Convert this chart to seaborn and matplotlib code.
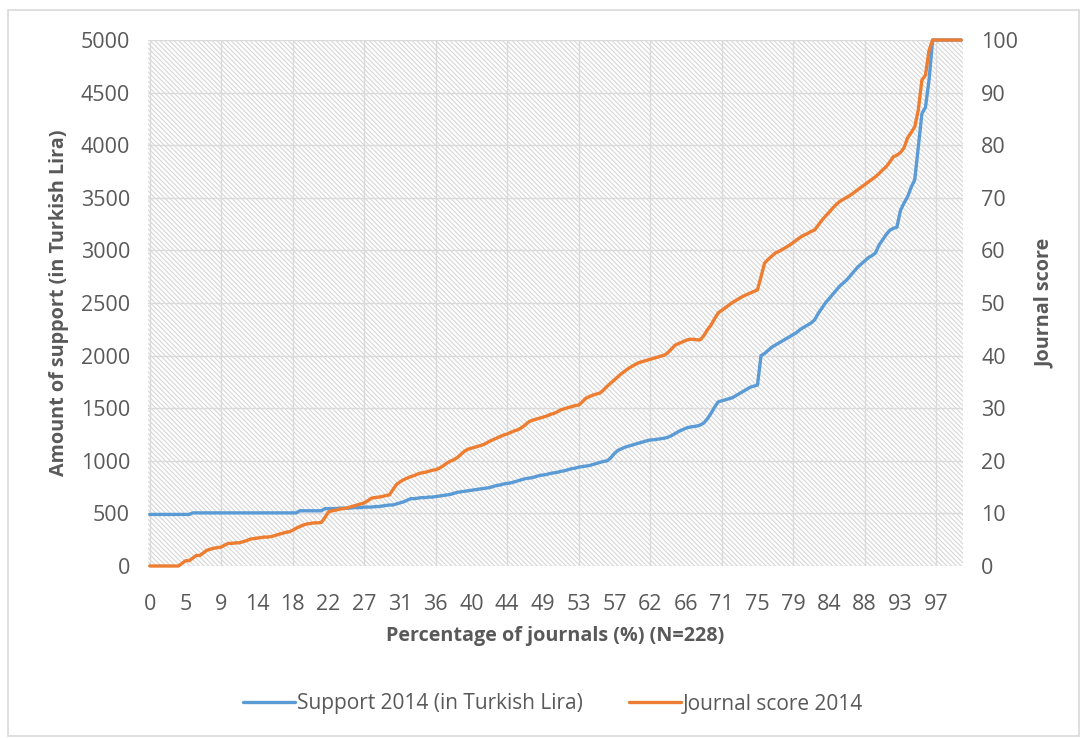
import numpy as np
import pandas as pd
import matplotlib
matplotlib.use("Agg")
import matplotlib.pyplot as plt
from matplotlib.patches import Rectangle
from matplotlib.lines import Line2D
import seaborn as sns

# Sorted support amounts per journal (Turkish Lira), 228 journals
support_2014 = [
    490, 490, 490, 490, 490, 490, 490, 490, 490, 490,
    490, 490, 505, 505, 505, 505, 505, 505, 505, 505,
    505, 505, 505, 505, 505, 505, 505, 505, 505, 505,
    505, 505, 505, 505, 505, 505, 505, 505, 505, 505,
    505, 505, 525, 525, 525, 525, 525, 525, 525, 545,
    545, 545, 545, 550, 550, 550, 550, 555, 555, 555,
    560, 560, 560, 565, 565, 570, 575, 580, 580, 590,
    600, 610, 625, 640, 640, 645, 650, 650, 655, 655,
    660, 665, 670, 675, 680, 690, 700, 705, 710, 715,
    720, 725, 730, 735, 740, 745, 755, 765, 770, 780,
    785, 790, 800, 810, 820, 830, 835, 840, 850, 860,
    865, 870, 880, 885, 890, 900, 905, 915, 925, 930,
    940, 945, 950, 955, 965, 975, 985, 995, 1000, 1030,
    1070, 1100, 1115, 1130, 1140, 1150, 1160, 1170, 1180, 1190,
    1198, 1200, 1205, 1210, 1215, 1225, 1240, 1260, 1280, 1295,
    1310, 1320, 1325, 1330, 1340, 1360, 1400, 1450, 1510, 1560,
    1570, 1580, 1590, 1600, 1620, 1640, 1660, 1680, 1700, 1710,
    1720, 2000, 2020, 2050, 2080, 2100, 2120, 2140, 2160, 2180,
    2200, 2220, 2250, 2270, 2290, 2310, 2340, 2400, 2450, 2500,
    2540, 2580, 2620, 2660, 2690, 2720, 2760, 2800, 2840, 2870,
    2900, 2930, 2950, 2975, 3050, 3100, 3150, 3190, 3210, 3220,
    3380, 3450, 3510, 3600, 3670, 3985, 4300, 4360, 4620, 5000,
    5000, 5000, 5000, 5000, 5000, 5000, 5000, 5000,
]

# Sorted journal scores, 228 journals
score_2014 = [
    0, 0, 0, 0, 0, 0, 0, 0, 0, 0.5,
    1, 1, 1.5, 2, 2, 2.5, 3, 3.2, 3.4, 3.5,
    3.6, 4, 4.3, 4.3, 4.4, 4.4, 4.6, 4.8, 5.1, 5.2,
    5.3, 5.4, 5.5, 5.5, 5.6, 5.8, 6, 6.2, 6.4, 6.5,
    6.8, 7.2, 7.5, 7.8, 8, 8.1, 8.2, 8.2, 8.3, 9.2,
    10.3, 10.5, 10.6, 10.8, 10.9, 11, 11.2, 11.4, 11.6, 11.8,
    12, 12.4, 12.9, 13, 13.1, 13.2, 13.4, 13.5, 14.5, 15.5,
    16, 16.4, 16.7, 17, 17.2, 17.5, 17.7, 17.8, 18, 18.2,
    18.3, 18.6, 19, 19.5, 19.9, 20.2, 20.6, 21.2, 21.8, 22.2,
    22.4, 22.6, 22.8, 23, 23.3, 23.7, 24, 24.3, 24.6, 24.9,
    25.1, 25.4, 25.7, 25.9, 26.3, 26.8, 27.4, 27.7, 27.9, 28.1,
    28.3, 28.5, 28.8, 29, 29.3, 29.7, 29.9, 30.1, 30.3, 30.5,
    30.6, 31.2, 31.9, 32.2, 32.5, 32.7, 32.9, 33.5, 34.2, 34.8,
    35.4, 36, 36.6, 37.1, 37.6, 38, 38.4, 38.7, 38.9, 39.1,
    39.3, 39.5, 39.7, 39.9, 40.1, 40.6, 41.3, 42, 42.3, 42.6,
    42.9, 43.1, 43.1, 43, 43, 43.8, 44.9, 45.8, 47, 48.1,
    48.6, 49.1, 49.6, 50.1, 50.5, 50.9, 51.3, 51.6, 51.9, 52.2,
    52.5, 55, 57.6, 58.3, 58.9, 59.5, 59.8, 60.2, 60.6, 61,
    61.5, 62, 62.5, 62.9, 63.2, 63.6, 63.9, 64.8, 65.7, 66.5,
    67.2, 68, 68.7, 69.3, 69.7, 70.1, 70.5, 71, 71.5, 72,
    72.5, 73, 73.5, 74, 74.6, 75.3, 75.9, 76.8, 77.8, 78.1,
    78.6, 79.5, 81.4, 82.4, 83.5, 86.7, 92.4, 93.3, 98, 100,
    100, 100, 100, 100, 100, 100, 100, 100,
]

# Percentage labels shown on the category axis (every 10th journal)
pct_labels = ["0", "5", "9", "14", "18", "22", "27", "31", "36", "40", "44", "49",
              "53", "57", "62", "66", "71", "75", "79", "84", "88", "93", "97"]

support_ticks = list(range(0, 5001, 500))
score_ticks = list(range(0, 101, 10))

BLUE = "#5B9BD5"
ORANGE = "#ED7D31"
TEXT = "#595959"
GRID = "#dadada"
HATCH = "#d6d6d6"

sns.set_theme(style="white")
plt.rcParams["font.family"] = ["Open Sans", "DejaVu Sans"]
plt.rcParams["hatch.color"] = HATCH
plt.rcParams["hatch.linewidth"] = 0.8

df = pd.DataFrame({
    "journal": np.arange(len(support_2014)),
    "support": support_2014,
    "score": score_2014,
})

fig = plt.figure(figsize=(10.84, 7.38), dpi=100)
fig.patch.set_facecolor("white")
fig.patches.append(Rectangle((8 / 1084, 1 - 736 / 738), 1071 / 1084, 726 / 738,
                             transform=fig.transFigure, facecolor="none",
                             edgecolor="#d9d9d9", linewidth=1.2))

ax = fig.add_axes([148 / 1084, 1 - 566 / 738, 815 / 1084, 526 / 738])
ax.set_facecolor("white")
# Fine diagonal hatching behind the plot
ax.add_patch(Rectangle((0, 0), 1, 1, transform=ax.transAxes, facecolor="none",
                       edgecolor=HATCH, hatch="\\" * 7, linewidth=0, zorder=0))

sns.lineplot(data=df, x="journal", y="support", ax=ax, color=BLUE,
             linewidth=2.4, zorder=3, clip_on=False)

ax2 = ax.twinx()
sns.lineplot(data=df, x="journal", y="score", ax=ax2, color=ORANGE,
             linewidth=2.4, zorder=3, clip_on=False)

n = len(support_2014)
ax.set_xlim(-0.5, n - 0.5)
ax.set_ylim(0, 5000)
ax2.set_ylim(0, 100)

ax.set_xticks(np.arange(0, n, 10)[:len(pct_labels)])
ax.set_xticklabels(pct_labels)
ax.set_yticks(support_ticks)
ax.set_yticklabels([str(v) for v in support_ticks])
ax2.set_yticks(score_ticks)
ax2.set_yticklabels([str(v) for v in score_ticks])

# Light gridlines: each support tick and every 20th journal
ax.set_axisbelow(True)
ax.grid(axis="y", color=GRID, linewidth=1.0)
for xv in range(0, n, 20):
    ax.axvline(xv, color=GRID, linewidth=1.0, zorder=0.5)

for a in (ax, ax2):
    for s in a.spines.values():
        s.set_visible(False)
    a.tick_params(length=0, labelsize=15.5, colors=TEXT, pad=13)
ax.tick_params(axis="x", pad=20)

ax.set_xlabel("Percentage of journals (%) (N=228)", fontsize=14.2,
              fontweight="bold", color=TEXT, labelpad=8)
ax.set_ylabel("Amount of support (in Turkish Lira)", fontsize=14.2,
              fontweight="bold", color=TEXT, labelpad=8)
ax2.set_ylabel("Journal score", fontsize=14.2, fontweight="bold",
               color=TEXT, labelpad=12)

handles = [Line2D([], [], color=BLUE, linewidth=2.4),
           Line2D([], [], color=ORANGE, linewidth=2.4)]
fig.legend(handles, ["Support 2014 (in Turkish Lira)", "Journal score 2014"],
           loc="center", bbox_to_anchor=(0.51, 1 - 704 / 738), ncol=2,
           frameon=False, fontsize=15, handlelength=2.5, handletextpad=0.1,
           columnspacing=2.2, labelcolor=TEXT)

fig.savefig("out.png", dpi=100, facecolor="white")
